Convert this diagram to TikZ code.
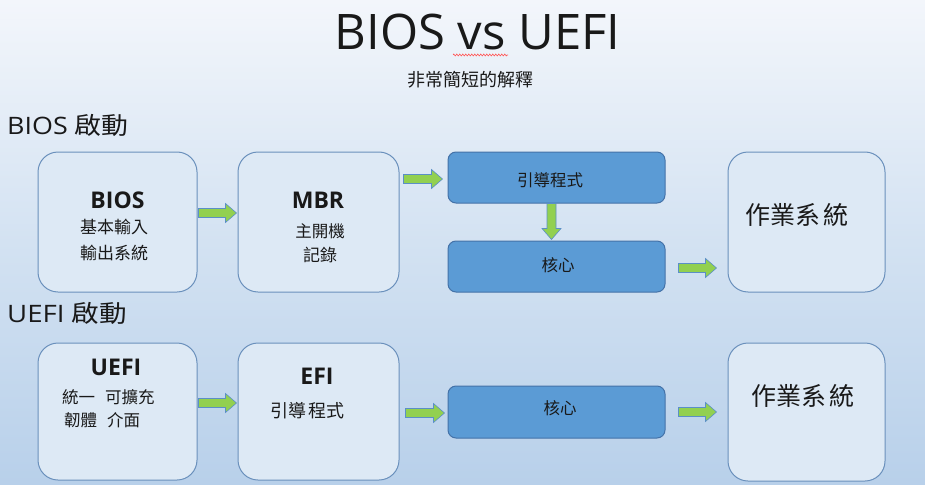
\documentclass[tikz,border=0pt]{standalone}
\usepackage{graphicx}
\usepackage{fontspec}
\setmainfont{Open Sans}
\newfontfamily\cjk{Noto Sans CJK TC}
\usetikzlibrary{calc,decorations.pathmorphing}
\definecolor{bgtop}{HTML}{F3F6FB}
\definecolor{bgmid}{HTML}{D3E2F2}
\definecolor{bgbot}{HTML}{B8D0EA}
\definecolor{lightfill}{HTML}{DDE9F5}
\definecolor{lightedge}{HTML}{6A90BC}
\definecolor{darkfill}{HTML}{5B9BD5}
\definecolor{darkedge}{HTML}{4472A8}
\definecolor{arrgreen}{HTML}{92D050}
\definecolor{arredge}{HTML}{5B8FC7}
\newcommand\fs[1]{\fontsize{#1}{#1}\selectfont}
\newcommand\harrow[2]{\draw[blockarrow] ($(#1)+(0,-4.5)$) -- ($(#2)+(-11,-4.5)$) -- ($(#2)+(-11,-9.5)$) -- (#2) -- ($(#2)+(-11,9.5)$) -- ($(#2)+(-11,4.5)$) -- ($(#1)+(0,4.5)$) -- cycle;}
\newcommand\varrow[2]{\draw[blockarrow] ($(#1)+(-4.5,0)$) -- ($(#2)+(-4.5,-11)$) -- ($(#2)+(-9.5,-11)$) -- (#2) -- ($(#2)+(9.5,-11)$) -- ($(#2)+(4.5,-11)$) -- ($(#1)+(4.5,0)$) -- cycle;}
\begin{document}
\begin{tikzpicture}[x=1pt,y=-1pt,
  lightbox/.style={draw=lightedge, fill=lightfill, line width=1pt, rounded corners=20pt, inner sep=0pt},
  darkbox/.style={draw=darkedge, fill=darkfill, line width=1pt, rounded corners=8pt, inner sep=0pt, minimum width=217pt, minimum height=51pt},
  blockarrow/.style={draw=arredge, fill=arrgreen, line width=0.6pt, line join=miter},
  txt/.style={inner sep=0pt, text=black!90},
  boldt/.style={txt, font=\bfseries\fs{23}},
  cjkt/.style={txt, font=\cjk\fs{#1}}]
\useasboundingbox (0,0) rectangle (925,484);
\shade[top color=bgtop, bottom color=bgbot, middle color=bgmid] (0,0) rectangle (925,484);

% title
\node[txt, anchor=base, font=\fs{49}] (title) at (477.5,50) {BIOS vs UEFI};
\draw[red!65, line width=0.6pt, decorate, decoration={zigzag, segment length=3pt, amplitude=1pt}] (453,55) -- (508,55);
\node[cjkt=18] (sub) at (470,80) {非常簡短的解釋};

% headings
\node[txt, anchor=base west, font=\fs{24}] (h1) at (7,135) {\scalebox{1.12}[1]{BIOS {\cjk 啟動}}};
\node[txt, anchor=base west, font=\fs{24}] (h2) at (7,322) {\scalebox{1.15}[1]{UEFI {\cjk 啟動}}};

% BIOS row boxes
\node[lightbox, minimum width=159pt, minimum height=140pt] (bios) at (117.5,222) {};
\node[lightbox, minimum width=161pt, minimum height=140pt] (mbr) at (318.5,222) {};
\node[darkbox] (boot) at (556.5,177.5) {};
\node[darkbox] (kern) at (556.5,266.5) {};
\node[lightbox, minimum width=157pt, minimum height=140pt] (os1) at (806.5,222) {};

% UEFI row boxes
\node[lightbox, minimum width=159pt, minimum height=137pt] (uefi) at (117.5,411.5) {};
\node[lightbox, minimum width=161pt, minimum height=137pt] (efi) at (318.5,411.5) {};
\node[darkbox, minimum height=52pt] (kern2) at (556.5,412) {};
\node[lightbox, minimum width=157pt, minimum height=138pt] (os2) at (806.5,412) {};

% texts row 1
\node[boldt] (tbios) at (117.5,200) {BIOS};
\node[cjkt=17] (tbios1) at (114,227) {基本輸入};
\node[cjkt=17] (tbios2) at (114,253) {輸出系統};
\node[boldt] (tmbr) at (318,200) {MBR};
\node[cjkt=16.5] (tmbr1) at (320,231) {主開機};
\node[cjkt=17] (tmbr2) at (320,255) {記錄};
\node[cjkt=16.5] (tboot) at (550,180) {引導程式};
\node[cjkt=16.5] (tkern) at (558,265) {核心};
\node[cjkt=25] (tos1) at (797,215) {作業系\hspace{3pt}統};

% texts row 2
\node[boldt] (tuefi) at (116,367) {UEFI};
\node[txt, anchor=west, font=\cjk\fs{16.5}] (tuefi1) at (62,397) {統一\hspace{0.6em}可擴充};
\node[txt, anchor=west, font=\cjk\fs{16.5}] (tuefi2) at (64,420) {韌體\hspace{0.6em}介面};
\node[boldt] (tefi) at (317,376) {EFI};
\node[cjkt=18] (tefi1) at (307,411) {引導\hspace{2pt}程式};
\node[cjkt=16.5] (tkern2) at (560,408) {核心};
\node[cjkt=25] (tos2) at (803,396) {作業系\hspace{3pt}統};

% arrows row 1
\coordinate (a1s) at ($(bios.east)+(1,-9)$);
\coordinate (a1e) at ($(mbr.west)+(-1,-9)$);
\harrow{a1s}{a1e}
\coordinate (a2s) at ($(mbr.east |- boot.west)+(4,1.5)$);
\coordinate (a2e) at ($(boot.west)+(-5,1.5)$);
\harrow{a2s}{a2e}
\coordinate (a3s) at ($(boot.south)+(-5,0)$);
\coordinate (a3e) at ($(kern.north)+(-5,-1)$);
\varrow{a3s}{a3e}
\coordinate (a4s) at ($(kern.east)+(13,1.5)$);
\coordinate (a4e) at ($(kern.east -| os1.west)+(-11,1.5)$);
\harrow{a4s}{a4e}

% arrows row 2
\coordinate (a5s) at ($(uefi.east)+(1,-8.5)$);
\coordinate (a5e) at ($(efi.west)+(-1,-8.5)$);
\harrow{a5s}{a5e}
\coordinate (a6s) at ($(efi.east |- kern2.west)+(6,1)$);
\coordinate (a6e) at ($(kern2.west)+(-3,1)$);
\harrow{a6s}{a6e}
\coordinate (a7s) at ($(kern2.east)+(13,0)$);
\coordinate (a7e) at ($(kern2.east -| os2.west)+(-11,0)$);
\harrow{a7s}{a7e}
\end{tikzpicture}
\end{document}
